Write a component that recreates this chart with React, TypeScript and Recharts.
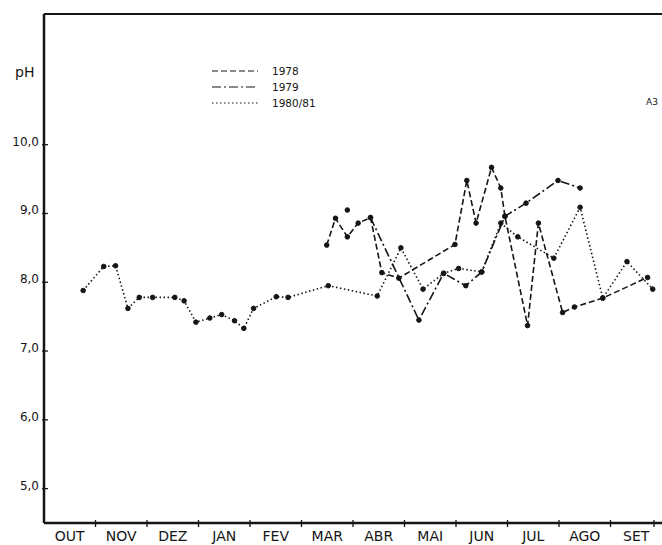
import { LineChart, Line, XAxis, YAxis, ReferenceLine } from "recharts";

// time axis: months since 1 October (0 = start of OUT, 12 = end of SET)
const months = ["OUT", "NOV", "DEZ", "JAN", "FEV", "MAR", "ABR", "MAI", "JUN", "JUL", "AGO", "SET"];
const phTicks = [5, 6, 7, 8, 9, 10];

const t1978 = [5.49, 5.66, 5.89, 6.1, 6.34, 6.56, 6.89, 7.98, 8.21, 8.39, 8.69, 8.87, 8.95, 9.39, 9.6, 10.07, 10.3, 10.85, 11.72];
const ph1978 = [8.54, 8.93, 8.66, 8.86, 8.94, 8.14, 8.06, 8.55, 9.48, 8.86, 9.67, 9.37, 8.96, 7.37, 8.86, 7.56, 7.64, 7.77, 8.07];

// first 1979 reading stands alone (no connecting segment)
const t1979 = [5.89, 6.0, 6.34, 7.28, 7.76, 8.19, 8.5, 8.95, 9.36, 9.98, 10.41];
const ph1979 = [9.05, null, 8.94, 7.45, 8.13, 7.95, 8.15, 8.96, 9.15, 9.48, 9.37];

const t1980 = [0.76, 1.16, 1.39, 1.63, 1.85, 2.11, 2.54, 2.72, 2.95, 3.22, 3.45, 3.7, 3.88, 4.07, 4.51, 4.74, 5.52, 6.47, 6.93, 7.36, 7.76, 8.05, 8.5, 8.87, 9.2, 9.9, 10.41, 10.85, 11.32, 11.82];
const ph1980 = [7.88, 8.23, 8.24, 7.62, 7.78, 7.78, 7.78, 7.73, 7.42, 7.48, 7.53, 7.44, 7.33, 7.62, 7.79, 7.78, 7.95, 7.8, 8.5, 7.9, 8.13, 8.2, 8.15, 8.86, 8.66, 8.35, 9.09, 7.77, 8.3, 7.9];

const toRows = (t: number[], ph: (number | null)[]) => t.map((v, i) => ({ t: v, ph: ph[i] }));

const series = [
  { name: "1978", data: toRows(t1978, ph1978), dash: "6 3" },
  { name: "1979", data: toRows(t1979, ph1979), dash: "9 3 2 3" },
  { name: "1980/81", data: toRows(t1980, ph1980), dash: "1.5 2.5" },
];

const W = 662;
const H = 545;
const AXIS_X = 44;
const AXIS_Y = 523;
const HALF_MONTH = (W - AXIS_X) / 24;
const INK = "#151515";
const FONT = "'DejaVu Sans', sans-serif";

const MonthTick = ({ x, payload }: any) => {
  const i = payload.value as number;
  return (
    <g>
      {i > 0 && <line x1={x} x2={x} y1={AXIS_Y - 3} y2={AXIS_Y + 4} stroke={INK} strokeWidth={1.3} />}
      {i < 12 && (
        <text x={x + HALF_MONTH} y={AXIS_Y + 18} textAnchor="middle" fontSize={14} fill={INK} fontFamily={FONT}>
          {months[i]}
        </text>
      )}
    </g>
  );
};

const PhTick = ({ y, payload }: any) => (
  <g>
    <line x1={AXIS_X - 2} x2={AXIS_X + 4} y1={y} y2={y} stroke={INK} strokeWidth={1.3} />
    <text x={AXIS_X - 5} y={y + 1} textAnchor="end" fontSize={12} fill={INK} fontFamily={FONT}>
      {(payload.value as number).toFixed(1).replace(".", ",")}
    </text>
  </g>
);

// legend key drawn over the plot, top left
const LegendBox = () => (
  <svg width={150} height={48} style={{ position: "absolute", left: 210, top: 62 }}>
    {series.map((s, i) => (
      <g key={s.name}>
        <line x1={2} x2={48} y1={9 + i * 16} y2={9 + i * 16} stroke={INK} strokeWidth={1.2} strokeDasharray={s.dash} />
        <text x={62} y={13 + i * 16} fontSize={10.5} fill={INK} fontFamily={FONT}>
          {s.name}
        </text>
      </g>
    ))}
  </svg>
);

export default function App() {
  return (
    <div style={{ position: "absolute", left: 0, top: 0, width: W, height: H, background: "#fff", fontFamily: FONT }}>
      <LineChart width={W} height={H} margin={{ top: 14, right: 0, bottom: 0, left: 0 }}>
        <XAxis
          dataKey="t"
          type="number"
          domain={[0, 12]}
          ticks={[0, 1, 2, 3, 4, 5, 6, 7, 8, 9, 10, 11, 12]}
          tick={<MonthTick />}
          tickLine={false}
          axisLine={{ stroke: INK, strokeWidth: 2.5 }}
          height={22}
          allowDuplicatedCategory={false}
        />
        <YAxis
          type="number"
          domain={[4.5, 11.9]}
          ticks={phTicks}
          tick={<PhTick />}
          tickLine={false}
          axisLine={{ stroke: INK, strokeWidth: 2.5 }}
          width={44}
          allowDataOverflow
        />
        <ReferenceLine y={11.9} stroke={INK} strokeWidth={2} />
        {series.map((s) => (
          <Line
            key={s.name}
            data={s.data}
            dataKey="ph"
            name={s.name}
            stroke={INK}
            strokeWidth={1.6}
            strokeDasharray={s.dash}
            dot={{ r: 2.3, fill: INK, stroke: INK, strokeWidth: 1, strokeDasharray: "" }}
            connectNulls={false}
            isAnimationActive={false}
          />
        ))}
      </LineChart>
      <LegendBox />
      <div style={{ position: "absolute", left: 15, top: 64, fontSize: 14, color: INK }}>pH</div>
      <div style={{ position: "absolute", left: 646, top: 97, fontSize: 9, color: INK }}>A3</div>
    </div>
  );
}
